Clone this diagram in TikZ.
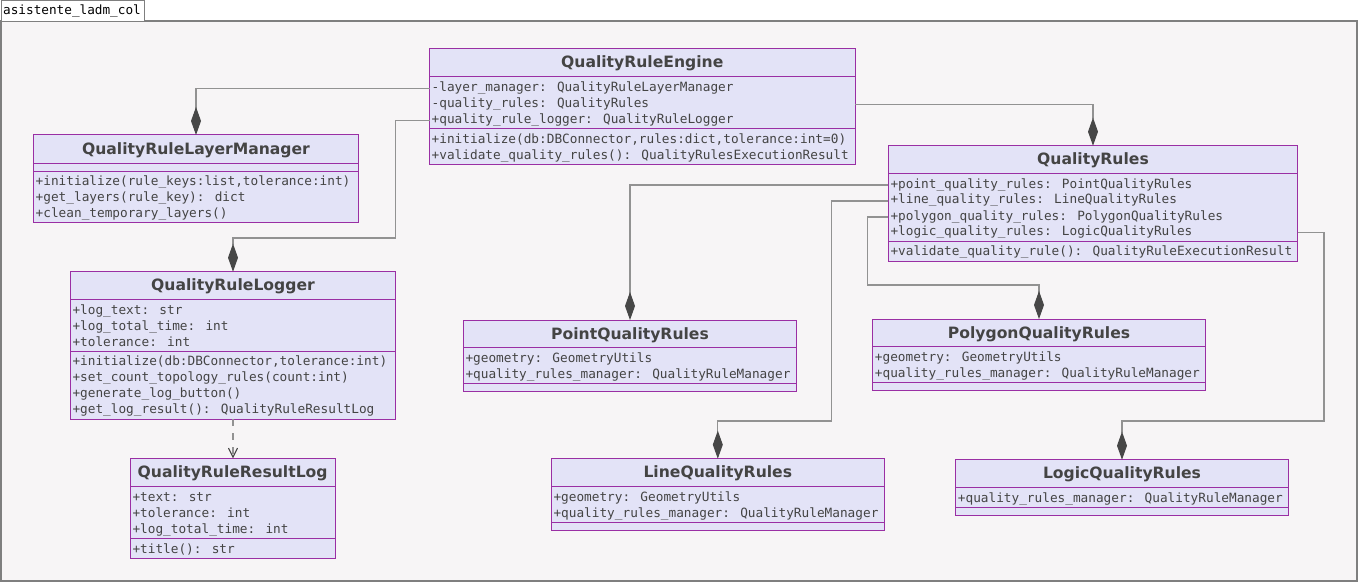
\documentclass[tikz,border=0pt]{standalone}
\usepackage{fontspec}
\setmainfont{DejaVu Sans}
\newfontfamily\monofont{DejaVu Sans Mono}
\usetikzlibrary{arrows.meta}

\definecolor{frameline}{HTML}{7F7F7F}
\definecolor{framebg}{HTML}{F7F5F6}
\definecolor{clsfill}{HTML}{E3E3F7}
\definecolor{clsline}{HTML}{9A2FA4}
\definecolor{txt}{HTML}{444444}
\definecolor{wire}{HTML}{929292}
\definecolor{tipcol}{HTML}{474747}

% class box: name, left, top, right, bottom, first separator, second separator, title
\newcommand\classbox[8]{%
  \node[cls, minimum width={#4-#2}, minimum height={#5-#3}] (#1) at (#2,#3) {};
  \draw[sepline] (#2,#6) -- (#4,#6);
  \draw[sepline] (#2,#7) -- (#4,#7);
  \node[ttl] (#1-t) at ({(#2+#4)/2},{(#3+#6)/2}) {#8};
}

\begin{document}
\begin{tikzpicture}[x=1pt,y=-1pt,
  cls/.style={draw=clsline, fill=clsfill, line width=1pt, anchor=north west,
    inner sep=0pt, outer sep=0pt},
  sepline/.style={draw=clsline, line width=1pt},
  ttl/.style={font=\fontsize{15.6}{16}\selectfont\bfseries, text=txt, inner sep=0pt,
    yshift=-1pt},
  mem/.style={font=\monofont\fontsize{12.75}{14}\selectfont, text=txt, anchor=west,
    inner sep=0pt, text height=9pt, text depth=3pt, yshift=-1.5pt},
  comp/.style={draw=wire, line width=1.1pt,
    -{Diamond[length=28pt,width=10pt,color=tipcol]}},
  dep/.style={draw=wire, line width=1.1pt, dash pattern=on 7pt off 7pt,
    -{Straight Barb[length=9pt,width=9pt,color=tipcol]}}]

\useasboundingbox (0,0) rectangle (1360,583);

% package frame and its tab
\draw[frameline, line width=2pt, fill=framebg] (1,21) rectangle (1357,581);
\node[draw=frameline, fill=white, line width=1pt, anchor=north west, inner sep=0pt,
  minimum width=143pt, minimum height=20.5pt] (tab) at (0.5,0.5) {};
\node[anchor=west, inner sep=0pt, font=\monofont\fontsize{12.7}{14}\selectfont]
  (tab-t) at (3,11.5) {asistente\_ladm\_col};

% QualityRuleEngine
\classbox{eng}{429.5}{49}{855}{164.5}{76.5}{128.5}{QualityRuleEngine}
\node[mem] (eng-a1) at (431.5,86.7) {-layer\_manager: QualityRuleLayerManager};
\node[mem] (eng-a2) at (431.5,102.7) {-quality\_rules: QualityRules};
\node[mem] (eng-a3) at (431.5,118.7) {+quality\_rule\_logger: QualityRuleLogger};
\node[mem] (eng-m1) at (431.5,138.7) {+initialize(db:DBConnector,rules:dict,tolerance:int=0)};
\node[mem] (eng-m2) at (431.5,154.7) {+validate\_quality\_rules(): QualityRulesExecutionResult};

% QualityRuleLayerManager
\classbox{lm}{33.5}{135}{358.5}{222.5}{163.3}{171.3}{QualityRuleLayerManager}
\node[mem] (lm-m1) at (35.5,180.9) {+initialize(rule\_keys:list,tolerance:int)};
\node[mem] (lm-m2) at (35.5,196.7) {+get\_layers(rule\_key): dict};
\node[mem] (lm-m3) at (35.5,212.5) {+clean\_temporary\_layers()};

% QualityRuleLogger
\classbox{log}{70.3}{271.7}{395.7}{419.3}{299.3}{351}{QualityRuleLogger}
\node[mem] (log-a1) at (72.3,309.5) {+log\_text: str};
\node[mem] (log-a2) at (72.3,325.5) {+log\_total\_time: int};
\node[mem] (log-a3) at (72.3,341.5) {+tolerance: int};
\node[mem] (log-m1) at (72.3,361) {+initialize(db:DBConnector,tolerance:int)};
\node[mem] (log-m2) at (72.3,377) {+set\_count\_topology\_rules(count:int)};
\node[mem] (log-m3) at (72.3,393) {+generate\_log\_button()};
\node[mem] (log-m4) at (72.3,409) {+get\_log\_result(): QualityRuleResultLog};

% QualityRuleResultLog
\classbox{rl}{130.3}{458.3}{335}{558.3}{486.7}{538.3}{QualityRuleResultLog}
\node[mem] (rl-a1) at (132.3,497) {+text: str};
\node[mem] (rl-a2) at (132.3,513) {+tolerance: int};
\node[mem] (rl-a3) at (132.3,529) {+log\_total\_time: int};
\node[mem] (rl-m1) at (132.3,548.5) {+title(): str};

% QualityRules
\classbox{qr}{888.3}{145.7}{1297.7}{261.3}{173.7}{241}{QualityRules}
\node[mem] (qr-a1) at (890.3,183.5) {+point\_quality\_rules: PointQualityRules};
\node[mem] (qr-a2) at (890.3,199.5) {+line\_quality\_rules: LineQualityRules};
\node[mem] (qr-a3) at (890.3,215.5) {+polygon\_quality\_rules: PolygonQualityRules};
\node[mem] (qr-a4) at (890.3,231.3) {+logic\_quality\_rules: LogicQualityRules};
\node[mem] (qr-m1) at (890.3,251) {+validate\_quality\_rule(): QualityRuleExecutionResult};

% PointQualityRules
\classbox{pt}{463.3}{320}{796.7}{391.7}{347.7}{383.3}{PointQualityRules}
\node[mem] (pt-a1) at (465.3,357.7) {+geometry: GeometryUtils};
\node[mem] (pt-a2) at (465.3,373.7) {+quality\_rules\_manager: QualityRuleManager};

% LineQualityRules
\classbox{ln}{551.3}{458.7}{884.3}{530}{486.3}{522}{LineQualityRules}
\node[mem] (ln-a1) at (553.3,496.7) {+geometry: GeometryUtils};
\node[mem] (ln-a2) at (553.3,512.5) {+quality\_rules\_manager: QualityRuleManager};

% PolygonQualityRules
\classbox{pg}{872.7}{319}{1205.3}{390.3}{346.7}{382.7}{PolygonQualityRules}
\node[mem] (pg-a1) at (874.7,356.7) {+geometry: GeometryUtils};
\node[mem] (pg-a2) at (874.7,372.7) {+quality\_rules\_manager: QualityRuleManager};

% LogicQualityRules
\classbox{lg}{955.7}{459.7}{1288.3}{515.3}{487.3}{507.3}{LogicQualityRules}
\node[mem] (lg-a1) at (957.7,497.7) {+quality\_rules\_manager: QualityRuleManager};

% bends of the routed connectors
\coordinate (c1) at (395.7,238);
\coordinate (c2) at (831.5,421);
\coordinate (c3) at (867.5,285);
\coordinate (c4) at (1324,421);

% compositions
\draw[comp] (eng.west |- eng-a1) -| (lm.north);
\draw[comp] (eng.west |- eng-a3) -| (c1) -| (log.north);
\draw[comp] (eng.east |- eng-a2) -| (qr.north);
\draw[comp] (qr.west |- qr-a1) -| (pt.north);
\draw[comp] (qr.west |- qr-a2) -| (c2) -| (ln.north);
\draw[comp] (qr.west |- qr-a3) -| (c3) -| (pg.north);
\draw[comp] (qr.east |- qr-a4) -| (c4) -| (lg.north);

% dependency
\draw[dep] (log.south) -- (log.south |- rl.north);

\end{tikzpicture}
\end{document}
